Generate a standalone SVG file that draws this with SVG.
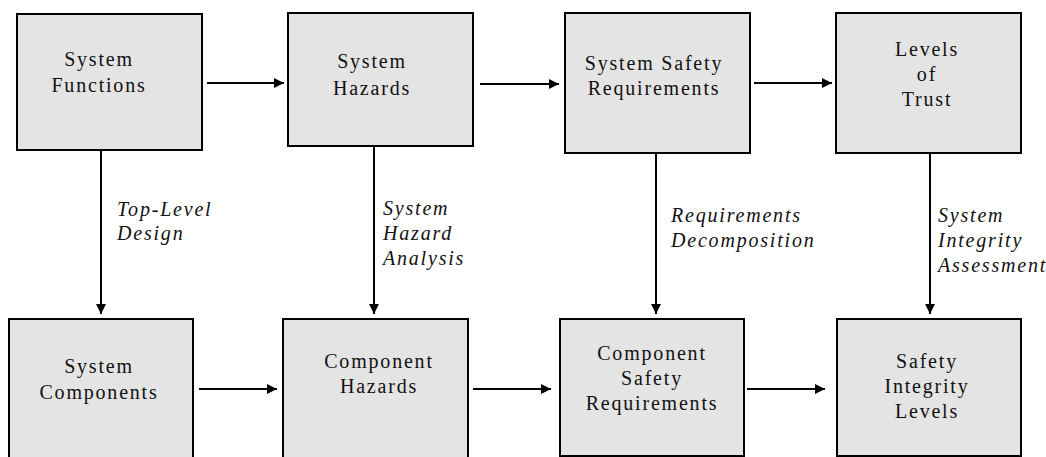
<svg xmlns="http://www.w3.org/2000/svg" width="1046" height="457" viewBox="0 0 1046 457">
<style>
.box{fill:#e4e4e4;stroke:#000;stroke-width:2}
.t{font-size:20px;letter-spacing:1.8px;fill:#111;text-anchor:middle}
.l{font-size:20px;font-style:italic;letter-spacing:1.8px;fill:#111}
.c{stroke:#000;stroke-width:2;fill:none;marker-end:url(#ah)}
</style>
<defs>
<marker id="ah" viewBox="0 0 10 10" refX="10" refY="5" markerWidth="10" markerHeight="10" markerUnits="userSpaceOnUse" orient="auto">
<path d="M0,0 L10,5 L0,10 Z" fill="#000"/>
</marker>
</defs>
<rect width="1046" height="457" fill="#fff"/>
<g font-family="Liberation Serif, Times New Roman, serif">
<g id="n1"><rect class="box" x="17" y="14" width="185" height="136"/><text class="t"><tspan x="99" y="66">System</tspan><tspan x="99" y="92">Functions</tspan></text></g>
<g id="n2"><rect class="box" x="288" y="13" width="185" height="133"/><text class="t"><tspan x="372" y="68">System</tspan><tspan x="372" y="95">Hazards</tspan></text></g>
<g id="n3"><rect class="box" x="565" y="13" width="185" height="140"/><text class="t"><tspan x="654" y="70">System Safety</tspan><tspan x="654" y="95">Requirements</tspan></text></g>
<g id="n4"><rect class="box" x="836" y="13" width="185" height="140"/><text class="t"><tspan x="927" y="56">Levels</tspan><tspan x="927" y="81">of</tspan><tspan x="927" y="106">Trust</tspan></text></g>
<g id="n5"><rect class="box" x="9" y="319" width="184" height="150"/><text class="t"><tspan x="99" y="373">System</tspan><tspan x="99" y="399">Components</tspan></text></g>
<g id="n6"><rect class="box" x="283" y="319" width="185" height="150"/><text class="t"><tspan x="379" y="368">Component</tspan><tspan x="379" y="393">Hazards</tspan></text></g>
<g id="n7"><rect class="box" x="560" y="319" width="184" height="137"/><text class="t"><tspan x="652" y="360">Component</tspan><tspan x="652" y="385">Safety</tspan><tspan x="652" y="410">Requirements</tspan></text></g>
<g id="n8"><rect class="box" x="837" y="319" width="184" height="137"/><text class="t"><tspan x="927" y="368">Safety</tspan><tspan x="927" y="393">Integrity</tspan><tspan x="927" y="418">Levels</tspan></text></g>
<g id="connectors">
<line class="c" x1="207" y1="83" x2="284" y2="83"/>
<line class="c" x1="480" y1="84" x2="559" y2="84"/>
<line class="c" x1="754" y1="83" x2="832" y2="83"/>
<line class="c" x1="199" y1="389" x2="277" y2="389"/>
<line class="c" x1="473" y1="389" x2="551" y2="389"/>
<line class="c" x1="747" y1="389" x2="825" y2="389"/>
<line class="c" x1="101" y1="150" x2="101" y2="314"/>
<line class="c" x1="374" y1="146" x2="374" y2="314"/>
<line class="c" x1="656" y1="153" x2="656" y2="314"/>
<line class="c" x1="930" y1="153" x2="930" y2="314"/>
<text class="l"><tspan x="117" y="216">Top-Level</tspan><tspan x="117" y="240">Design</tspan></text>
<text class="l"><tspan x="383" y="215">System</tspan><tspan x="383" y="240">Hazard</tspan><tspan x="383" y="265">Analysis</tspan></text>
<text class="l"><tspan x="671" y="222">Requirements</tspan><tspan x="671" y="247">Decomposition</tspan></text>
<text class="l"><tspan x="938" y="222">System</tspan><tspan x="938" y="247">Integrity</tspan><tspan x="938" y="272">Assessment</tspan></text>
</g>
</g>
</svg>
